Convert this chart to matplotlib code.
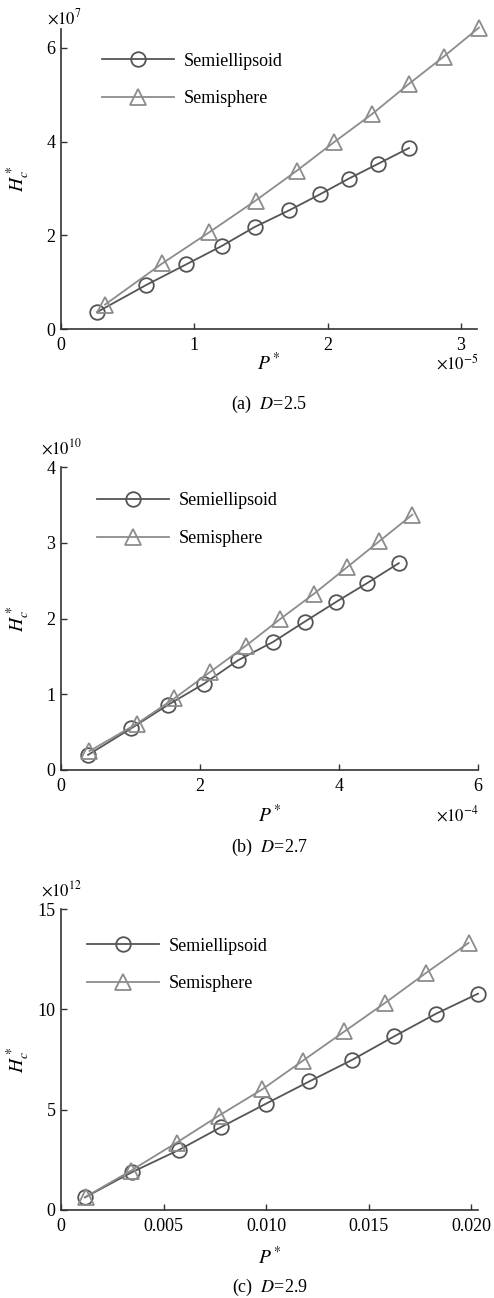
import matplotlib
matplotlib.use('Agg')
import matplotlib.pyplot as plt

plt.rcParams['font.family'] = ['Liberation Serif', 'DejaVu Serif']
plt.rcParams['mathtext.fontset'] = 'stix'

W, H = 494, 1298

# panel (a) D=2.5 : P* in 1e-5, Hc* in 1e7
pa_ell = [0.27, 0.64, 0.94, 1.205, 1.455, 1.71, 1.94, 2.16, 2.375, 2.61]
ha_ell = [0.36, 0.94, 1.38, 1.77, 2.18, 2.53, 2.87, 3.21, 3.52, 3.86]
pa_sph = [0.33, 0.76, 1.11, 1.46, 1.77, 2.05, 2.335, 2.61, 2.87, 3.135]
ha_sph = [0.52, 1.40, 2.06, 2.74, 3.38, 3.99, 4.59, 5.23, 5.81, 6.43]

# panel (b) D=2.7 : P* in 1e-4, Hc* in 1e10
pb_ell = [0.39, 1.01, 1.54, 2.06, 2.55, 3.05, 3.51, 3.96, 4.41, 4.86]
hb_ell = [0.20, 0.55, 0.86, 1.14, 1.45, 1.69, 1.96, 2.22, 2.47, 2.73]
pb_sph = [0.41, 1.09, 1.63, 2.14, 2.66, 3.15, 3.645, 4.12, 4.58, 5.055]
hb_sph = [0.25, 0.61, 0.945, 1.29, 1.64, 1.99, 2.33, 2.68, 3.02, 3.37]

# panel (c) D=2.9 : Hc* in 1e12
pc_ell = [0.00117, 0.00345, 0.00576, 0.0078, 0.00998, 0.01211, 0.01421, 0.01624, 0.01828, 0.02033]
hc_ell = [0.63, 1.88, 3.0, 4.13, 5.29, 6.41, 7.49, 8.65, 9.78, 10.78]
pc_sph = [0.00122, 0.00341, 0.00564, 0.00768, 0.00982, 0.01179, 0.01382, 0.0158, 0.01779, 0.01987]
hc_sph = [0.67, 1.96, 3.36, 4.69, 6.02, 7.44, 8.9, 10.32, 11.81, 13.31]

xt_a, yt_a = [0, 1, 2, 3], [0, 2, 4, 6]
xt_b, yt_b = [0, 2, 4, 6], [0, 1, 2, 3, 4]
xt_c, yt_c = [0, 0.005, 0.010, 0.015, 0.020], [0, 5, 10, 15]
xl_c = ['0', '0.005', '0.010', '0.015', '0.020']

labels = ['Semiellipsoid', 'Semisphere']
c_ell, c_sph = '#555555', '#8c8c8c'
axis_col = '#333333'

fig = plt.figure(figsize=(W / 100, H / 100), dpi=100)


def px(x, y):
    return x / W, 1 - y / H


def panel(l, r, top, bot, xe, ye, xs, ys, xlim, ylim, xt, yt, xtl, yexp, xexp,
          xexp_pos, yexp_pos, leg_pos, xlab_y, cap, cap_y):
    ax = fig.add_axes([l / W, 1 - bot / H, (r - l) / W, (bot - top) / H])
    ax.plot(xe, ye, color=c_ell, lw=1.3, marker='o', ms=10.5, mfc='none',
            mec=c_ell, mew=1.3, clip_on=False, label=labels[0])
    ax.plot(xs, ys, color=c_sph, lw=1.3, marker='^', ms=11, mfc='none',
            mec=c_sph, mew=1.3, clip_on=False, label=labels[1])
    ax.set_xlim(*xlim)
    ax.set_ylim(*ylim)
    ax.set_xticks(xt)
    ax.set_xticklabels(xtl)
    ax.set_yticks(yt)
    ax.set_yticklabels([str(v) for v in yt])
    for s in ['top', 'right']:
        ax.spines[s].set_visible(False)
    for s in ['left', 'bottom']:
        ax.spines[s].set_color(axis_col)
        ax.spines[s].set_linewidth(1.2)
    ax.tick_params(direction='in', length=4, width=1, color=axis_col,
                   labelsize=13)
    ax.tick_params(axis='x', pad=6)
    ax.tick_params(axis='y', pad=4)
    # y label drawn as figure text so its centre sits at x = 18 px
    fig.text(*px(18, (top + bot) / 2), r'$H_c^*$', fontsize=14,
             rotation=90, ha='center', va='center')
    fig.text(*px((l + r) / 2, xlab_y), r'$P^*$', fontsize=14,
             ha='center', va='center')
    if xexp:
        fig.text(*px(*xexp_pos), r'$\times10^{%s}$' % xexp, fontsize=12,
                 ha='center', va='center')
    fig.text(*px(*yexp_pos), r'$\times10^{%s}$' % yexp, fontsize=12,
             ha='center', va='center')
    fig.text(*px((l + r) / 2, cap_y), '(%s)  $D$=%s' % cap, fontsize=13,
             ha='center', va='center')
    ax.legend(loc='center left', bbox_to_anchor=px(*leg_pos),
              bbox_transform=fig.transFigure, frameon=False, fontsize=13,
              handlelength=4.0, handletextpad=0.55, labelspacing=1.15,
              borderpad=0, borderaxespad=0)
    return ax


panel(61, 477, 29, 329, pa_ell, ha_ell, pa_sph, ha_sph, (0, 3.12), (0, 6.4),
      xt_a, yt_a, [str(v) for v in xt_a], '7', '-5', (457, 363), (64, 18),
      (102, 80), 363, ('a', '2.5'), 404)

panel(61, 478, 467, 770, pb_ell, hb_ell, pb_sph, hb_sph, (0, 6), (0, 4),
      xt_b, yt_b, [str(v) for v in xt_b], '10', '-4', (457, 815), (61, 448),
      (97, 519.5), 815, ('b', '2.7'), 847)

panel(61, 478, 909, 1210, pc_ell, hc_ell, pc_sph, hc_sph, (0, 0.02033), (0, 15),
      xt_c, yt_c, xl_c, '12', None, None, (61, 890),
      (87, 965), 1257, ('c', '2.9'), 1287)

fig.savefig('out.png', dpi=100)
